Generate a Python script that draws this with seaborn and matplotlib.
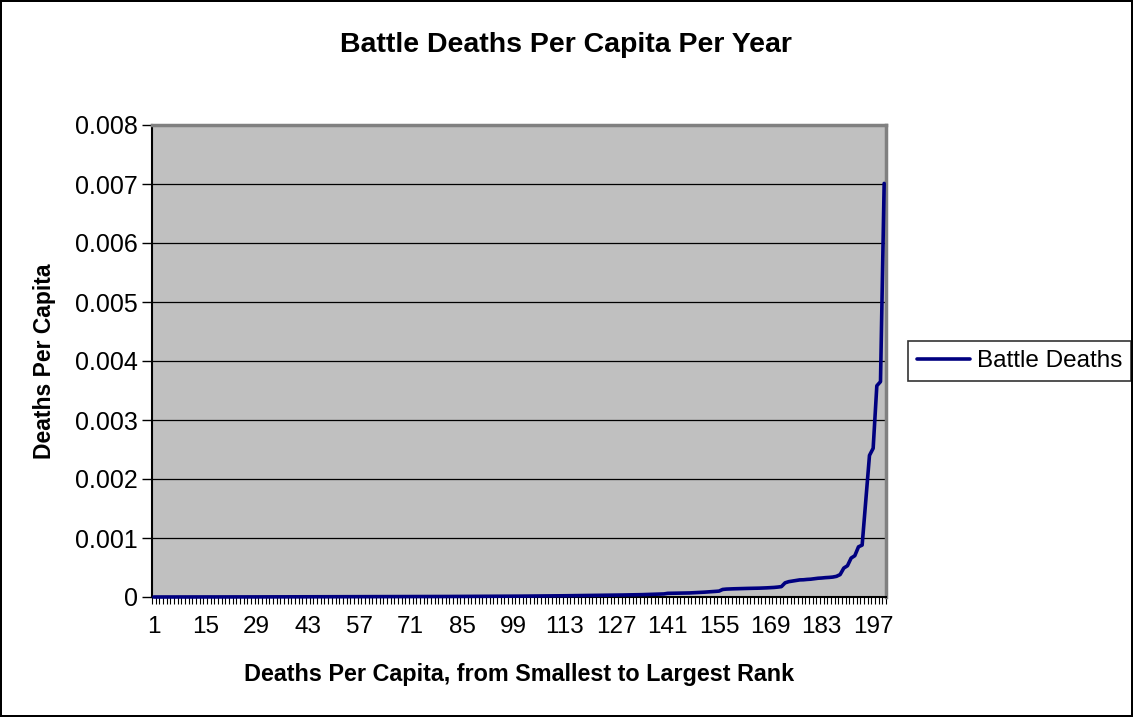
import numpy as np
import pandas as pd
import matplotlib
matplotlib.use("Agg")
import matplotlib.pyplot as plt
import seaborn as sns
from matplotlib.ticker import FixedLocator, FuncFormatter

# ---- data (values in units of 1e-6 deaths per capita) ----
vals_001_020 = [0, 0, 0, 0, 0, 0.1, 0.1, 0.2, 0.2, 0.3, 0.3, 0.4, 0.4, 0.5, 0.5, 0.6, 0.7, 0.7, 0.8, 0.9]
vals_021_040 = [1.0, 1.1, 1.2, 1.3, 1.4, 1.5, 1.6, 1.7, 1.8, 1.9, 2.0, 2.1, 2.2, 2.3, 2.4, 2.5, 2.6, 2.7, 2.8, 2.9]
vals_041_060 = [3.0, 3.1, 3.2, 3.3, 3.4, 3.5, 3.6, 3.7, 3.8, 3.9, 4.0, 4.1, 4.2, 4.3, 4.4, 4.5, 4.7, 4.8, 5.0, 5.1]
vals_061_080 = [5.3, 5.4, 5.6, 5.7, 5.9, 6.0, 6.2, 6.3, 6.5, 6.6, 6.8, 7.0, 7.2, 7.4, 7.6, 7.8, 8.0, 8.2, 8.4, 8.6]
vals_081_100 = [8.8, 9.0, 9.2, 9.4, 9.6, 9.8, 10.0, 10.3, 10.6, 10.9, 11.2, 11.5, 11.8, 12.1, 12.4, 12.7, 13.0, 13.4, 13.8, 14.2]
vals_101_120 = [14.6, 15.0, 15.5, 16.0, 16.5, 17.0, 17.5, 18.0, 18.6, 19.2, 19.8, 20.4, 21.0, 21.7, 22.4, 23.1, 23.8, 24.5, 25.2, 26.0]
vals_121_140 = [26.8, 27.6, 28.4, 29.2, 30.0, 31, 32, 33, 34, 35, 36, 37, 38, 40, 42, 44, 46, 48, 50, 52]
vals_141_160 = [62, 63, 64, 65, 66, 67, 69, 72, 75, 78, 82, 86, 90, 95, 100, 128, 134, 137, 139, 141]
vals_161_180 = [143, 145, 146, 147, 148, 150, 152, 155, 158, 162, 168, 176, 240, 260, 270, 280, 290, 292, 298, 302]
vals_181_200 = [310, 318, 322, 328, 332, 338, 350, 380, 490, 530, 660, 700, 850, 880, 1650, 2400, 2520, 3580, 3650, 7010]

values = np.array(vals_001_020 + vals_021_040 + vals_041_060 + vals_061_080 + vals_081_100 +
                  vals_101_120 + vals_121_140 + vals_141_160 + vals_161_180 + vals_181_200) * 1e-6
ranks = np.arange(1, len(values) + 1)
x_tick_labels = [1, 15, 29, 43, 57, 71, 85, 99, 113, 127, 141, 155, 169, 183, 197]
y_ticks = [0, 0.001, 0.002, 0.003, 0.004, 0.005, 0.006, 0.007, 0.008]

df = pd.DataFrame({"Rank": ranks, "Battle Deaths": values})

sns.set_style("white")
plt.rcParams["font.family"] = ["Liberation Sans", "DejaVu Sans"]
plt.rcParams["text.color"] = "black"
plt.rcParams["axes.labelcolor"] = "black"
plt.rcParams["xtick.color"] = "black"
plt.rcParams["ytick.color"] = "black"

fig = plt.figure(figsize=(11.33, 7.17), dpi=100)
fig.patch.set_facecolor("white")
fig.patch.set_edgecolor("black")
fig.patch.set_linewidth(1.5)

ax = fig.add_axes([152 / 1133, 1 - 597 / 717, (886 - 152) / 1133, (597 - 125) / 717])
ax.set_facecolor("#C0C0C0")

sns.lineplot(data=df, x="Rank", y="Battle Deaths", color="#000080", linewidth=2.6,
             ax=ax, label="Battle Deaths", clip_on=False, zorder=5)

ax.set_xlim(0.5, len(values) + 0.5)
ax.set_ylim(0, 0.008)

# gridlines
ax.yaxis.set_major_locator(FixedLocator(y_ticks))
ax.grid(axis="y", color="black", linewidth=0.9)
ax.grid(axis="x", visible=False)
ax.set_axisbelow(True)
ax.yaxis.set_major_formatter(FuncFormatter(lambda v, p: "0" if v == 0 else f"{v:.3f}"))
ax.tick_params(axis="y", which="major", direction="out", length=7, width=1, color="black",
               labelcolor="black", labelsize=18, pad=3, left=True)

ax.xaxis.set_major_locator(FixedLocator(x_tick_labels))
ax.xaxis.set_minor_locator(FixedLocator(np.arange(0.5, len(values) + 1, 1.0)))
ax.set_xticklabels([str(v) for v in x_tick_labels])
ax.tick_params(axis="x", which="major", length=0, labelsize=17.5, labelcolor="black", pad=14)
ax.tick_params(axis="x", which="minor", direction="out", length=5, width=0.8, color="black", bottom=True)

for side in ["top", "right"]:
    ax.spines[side].set_color("#808080")
    ax.spines[side].set_linewidth(2.5)
ax.spines["left"].set_color("black")
ax.spines["left"].set_linewidth(1.5)
ax.spines["bottom"].set_color("black")
ax.spines["bottom"].set_linewidth(1.5)

ax.set_xlabel("")
ax.set_ylabel("")

fig.text(566 / 1133, 1 - 45 / 717, "Battle Deaths Per Capita Per Year", ha="center", va="center",
         fontsize=20.5, fontweight="bold", color="black")
fig.text(519 / 1133, 1 - 675 / 717, "Deaths Per Capita, from Smallest to Largest Rank", ha="center",
         va="center", fontsize=16.8, fontweight="bold", color="black")
fig.text(45 / 1133, 1 - 361 / 717, "Deaths Per Capita", ha="center", va="center", rotation=90,
         fontsize=16.5, fontweight="bold", color="black")

ax.legend_.remove()
handles, labels = ax.get_legend_handles_labels()
leg = fig.legend(handles, labels, loc="center left", bbox_to_anchor=(908 / 1133, 1 - 361 / 717),
                 frameon=True, fancybox=False, edgecolor="black", fontsize=17.5,
                 handlelength=2.2, handletextpad=0.3, borderpad=0.35, borderaxespad=0)
leg.get_frame().set_linewidth(1.2)
for t in leg.get_texts():
    t.set_color("black")

fig.savefig("out.png", dpi=100, facecolor="white", edgecolor="black")
